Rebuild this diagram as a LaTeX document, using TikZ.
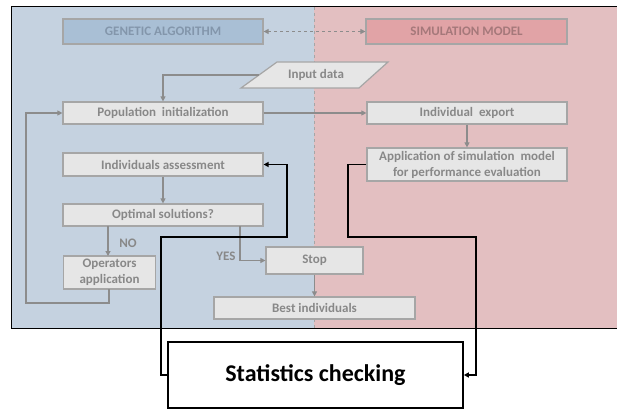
\documentclass[tikz,border=0pt]{standalone}
\usepackage{fontspec}
\setmainfont{Carlito}
\usetikzlibrary{arrows.meta}
\definecolor{bgblue}{HTML}{C5D2E0}
\definecolor{bgpink}{HTML}{E3BFC1}
\definecolor{hdblue}{HTML}{A9BFD5}
\definecolor{hdpink}{HTML}{E1A3A6}
\definecolor{hdbluetxt}{HTML}{8396AB}
\definecolor{hdpinktxt}{HTML}{A5787A}
\definecolor{boxfill}{HTML}{E6E6E6}
\definecolor{boxline}{HTML}{A6A6A6}
\definecolor{txtgray}{HTML}{888888}
\definecolor{arrgray}{HTML}{8C8C8C}
\tikzset{
  procbox/.style={draw=boxline, line width=1.2pt, fill=boxfill, text=txtgray,
    font=\bfseries\fontsize{13}{16}\selectfont, inner sep=0pt, align=center},
  headbox/.style={procbox},
  garrow/.style={draw=arrgray, line width=1.1pt, -{Triangle[length=5pt,width=5pt]}},
  barrow/.style={draw=black, line width=1.6pt, -{Triangle[length=5pt,width=5pt]}},
  lbl/.style={text=txtgray, font=\bfseries\fontsize{13}{16}\selectfont, inner sep=0pt}
}
\begin{document}
\begin{tikzpicture}[x=1pt,y=-1pt]
\useasboundingbox (0,0) rectangle (617,409);
% backgrounds
\fill[bgblue] (11,7) rectangle (314,328);
\fill[bgpink] (314,7) rectangle (617,328);
\draw[boxline, dashed, line width=0.8pt] (314,7) -- (314,328);
\draw[black, line width=1pt] (617,7) -- (11,7) -- (11,328) -- (617,328);
% header boxes
\node[headbox, fill=hdblue, text=hdbluetxt, minimum width=200pt, minimum height=25pt] (ga) at (163,31.5) {GENETIC ALGORITHM};
\node[headbox, fill=hdpink, text=hdpinktxt, minimum width=201pt, minimum height=25pt] (sm) at (466.5,31.5) {SIMULATION MODEL};
\draw[arrgray, line width=1.1pt, dashed, {Triangle[length=5pt,width=5pt]}-{Triangle[length=5pt,width=5pt]}] (ga) -- (sm);
% input data
\draw[draw=boxline, line width=1.2pt, fill=boxfill] (277,62) -- (388,62) -- (359,88) -- (241,88) -- cycle;
\node[lbl] (inp) at (316,75) {Input data};
\coordinate (inpl) at (259,75);
% process boxes
\node[procbox, minimum width=200pt, minimum height=22pt] (pop) at (163,113) {Population\ \ initialization};
\node[procbox, minimum width=200pt, minimum height=23pt] (ass) at (163,164.5) {Individuals assessment};
\node[procbox, minimum width=200pt, minimum height=22pt] (opt) at (163,215) {Optimal solutions?};
\node[procbox, minimum width=92pt, minimum height=33pt] (ops) at (109.5,272.5) {Operators\\application};
\node[procbox, minimum width=97pt, minimum height=27pt] (stop) at (314.5,260.5) {Stop};
\node[procbox, minimum width=201pt, minimum height=22pt] (best) at (314.5,308) {Best individuals};
\node[procbox, minimum width=200pt, minimum height=22pt] (exp) at (467,113) {Individual\ \ export};
\node[procbox, minimum width=200pt, minimum height=33pt] (app) at (467,164.5) {Application of simulation\ \ model\\for performance evaluation};
\node[draw=black, line width=1.6pt, fill=white, minimum width=295pt, minimum height=66pt, inner sep=0pt, font=\bfseries\fontsize{24}{28}\selectfont] (stat) at (315.5,375) {Statistics checking};
% gray connectors
\draw[garrow] (inpl) -- (163,75) -- (pop.north);
\draw[garrow] (pop.east) -- (exp.west);
\draw[garrow] (exp.south) -- (app.north);
\draw[garrow] (ass.south) -- (opt.north);
\draw[garrow] (108,226) -- (108,256);
\node[lbl] (no) at (128,243) {NO};
\draw[garrow] (240,226) -- (240,260.5) -- (stop.west);
\node[lbl] (yes) at (226,256) {YES};
\draw[garrow] (stop.south) -- (best.north);
\draw[garrow] (109,289) -- (109,303) -- (26,303) -- (26,113) -- (pop.west);
% black connectors
\draw[barrow] (app.west) -- (348,164.5) -- (348,237) -- (476,237) -- (476,375) -- (stat.east);
\draw[barrow] (stat.west) -- (161,375) -- (161,237) -- (287,237) -- (287,164.5) -- (ass.east);
\end{tikzpicture}
\end{document}
